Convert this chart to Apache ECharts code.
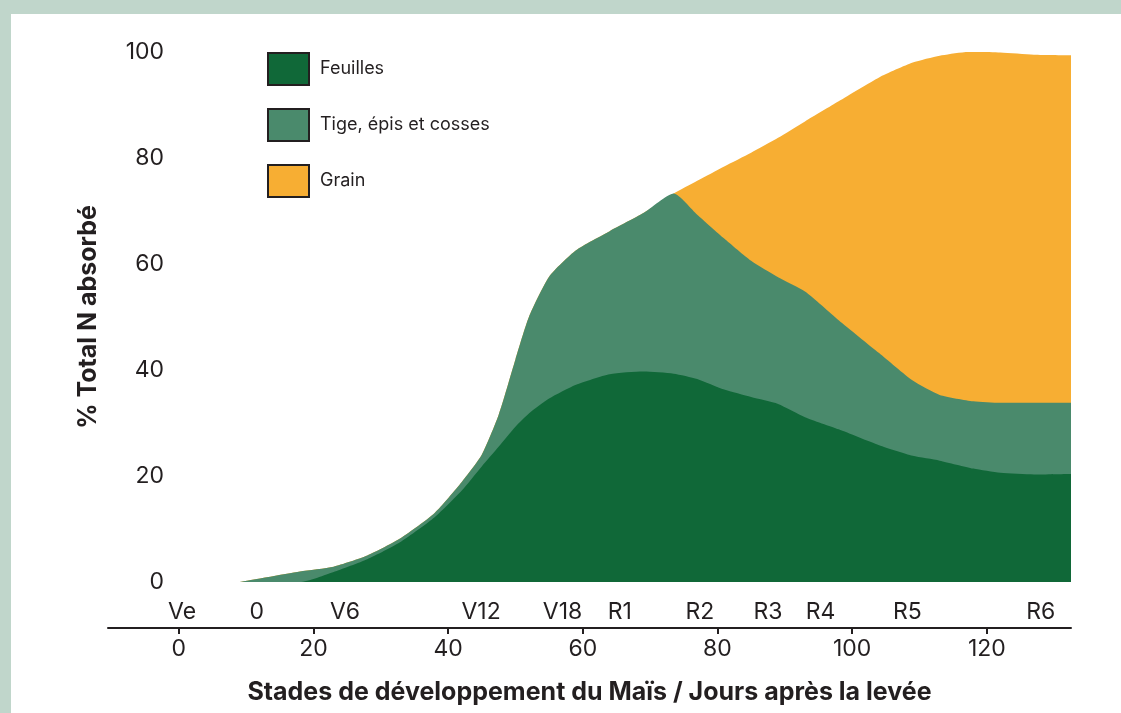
<!DOCTYPE html>
<html>
<head>
<meta charset="utf-8">
<script src="https://cdn.jsdelivr.net/npm/echarts@6/dist/echarts.min.js"></script>
<style>
  html, body { margin: 0; padding: 0; }
  body { width: 1121px; height: 713px; background: #c0d6cb; position: relative; overflow: hidden; }
  #chart { position: absolute; left: 11px; top: 14px; width: 1110px; height: 699px; background: #fff; }
</style>
</head>
<body>
<div id="chart"></div>
<script>
var chart = echarts.init(document.getElementById('chart'));

// jours après la levée
var days = [9, 18, 23, 28, 33, 38, 42, 45, 47.5, 50, 52, 55, 59, 64, 69, 73.5,
            77, 81, 85, 89, 93, 98, 104, 109, 113, 118, 122, 127, 132.5];
// part de chaque organe (%), une couche au-dessus de l'autre
var feuilles = [0, 0, 1.9, 4.3, 7.6, 12.2, 17.2, 21.8, 25.5, 29.3, 31.8, 34.6, 37.2, 39.2, 39.7, 39.3,
                38.3, 36.3, 34.9, 33.6, 31.1, 28.8, 25.8, 23.8, 22.9, 21.4, 20.6, 20.3, 20.4];
var tige = [0, 2.0, 1.0, 0.7, 0.7, 0.8, 1.6, 2.2, 6.0, 12.7, 18.2, 23.0, 25.4, 27, 29.9, 34,
            31.0, 28.5, 25.7, 23.9, 23.7, 20.6, 17.4, 14.2, 12.4, 12.7, 13.2, 13.5, 13.4];
var grain = [0, 0, 0, 0, 0, 0, 0, 0, 0, 0, 0, 0, 0, 0, 0, 0,
             6.4, 13.6, 20.4, 26.3, 32.1, 41.3, 52.0, 60.0, 64.0, 66.0, 66.1, 65.7, 65.6];

var dayTicks = [0, 20, 40, 60, 80, 100, 120];
var stageNames = ['Ve', '0', 'V6', 'V12', 'V18', 'R1', 'R2', 'R3', 'R4', 'R5', 'R6'];
var stageDays = [0.5, 11.6, 24.7, 44.9, 57, 65.5, 77.4, 87.5, 95.3, 108.2, 128];

var textColor = '#231f20';
var fontFamily = 'Inter, "Liberation Sans", Arial, sans-serif';

// bords supérieurs cumulés de chaque couche
var topFeuilles = feuilles.map(function (v, i) { return [days[i], v]; });
var topTige = feuilles.map(function (v, i) { return [days[i], v + tige[i]]; });
var topGrain = feuilles.map(function (v, i) { return [days[i], v + tige[i] + grain[i]]; });

function areaSeries(name, data, color) {
    return {
        name: name,
        type: 'line',
        smooth: 0.2,
        showSymbol: false,
        symbol: 'none',
        lineStyle: { width: 0 },
        areaStyle: { color: color, opacity: 1 },
        itemStyle: { color: color },
        data: data
    };
}

var option = {
    animation: false,
    textStyle: { fontFamily: fontFamily, color: textColor },
    legend: {
        orient: 'vertical',
        left: 256,
        top: 38,
        padding: 0,
        itemWidth: 41,
        itemHeight: 32,
        itemGap: 22,
        icon: 'rect',
        itemStyle: { borderColor: textColor, borderWidth: 2 },
        textStyle: { fontSize: 18, color: textColor, fontFamily: fontFamily, padding: [0, 0, 0, 6] },
        data: ['Feuilles', 'Tige, épis et cosses', 'Grain']
    },
    grid: { left: 97, right: 50, top: 38, bottom: 131 },
    xAxis: [{
        type: 'value',
        min: -10.5,
        max: 132.5,
        position: 'bottom',
        offset: 46,
        axisLine: { onZero: false, lineStyle: { color: textColor, width: 2 } },
        axisTick: { customValues: dayTicks, length: 6, lineStyle: { color: textColor, width: 2 } },
        axisLabel: { customValues: dayTicks, fontSize: 23, color: textColor, margin: 10 },
        splitLine: { show: false },
        name: 'Stades de développement du Maïs / Jours après la levée',
        nameLocation: 'middle',
        nameGap: 52,
        nameTextStyle: { fontSize: 25, fontWeight: 'bold', color: textColor }
    }, {
        type: 'value',
        min: -10.5,
        max: 132.5,
        position: 'bottom',
        offset: 0,
        axisLine: { show: false, onZero: false },
        axisTick: { show: false },
        axisLabel: {
            customValues: stageDays,
            fontSize: 23,
            color: textColor,
            margin: 19,
            formatter: function (v) {
                var i = stageDays.indexOf(v);
                return i >= 0 ? stageNames[i] : '';
            }
        },
        splitLine: { show: false }
    }],
    yAxis: {
        type: 'value',
        min: 0,
        max: 100,
        interval: 20,
        axisLine: { show: false },
        axisTick: { show: false },
        splitLine: { show: false },
        axisLabel: { fontSize: 23, color: textColor, margin: -56 },
        name: '% Total N absorbé',
        nameLocation: 'middle',
        nameRotate: 90,
        nameGap: 7,
        nameTextStyle: { fontSize: 25, fontWeight: 'bold', color: textColor }
    },
    series: [
        areaSeries('Grain', topGrain, '#f7ae33'),
        areaSeries('Tige, épis et cosses', topTige, '#4a8a6c'),
        areaSeries('Feuilles', topFeuilles, '#106838')
    ]
};

chart.setOption(option);
</script>
</body>
</html>
